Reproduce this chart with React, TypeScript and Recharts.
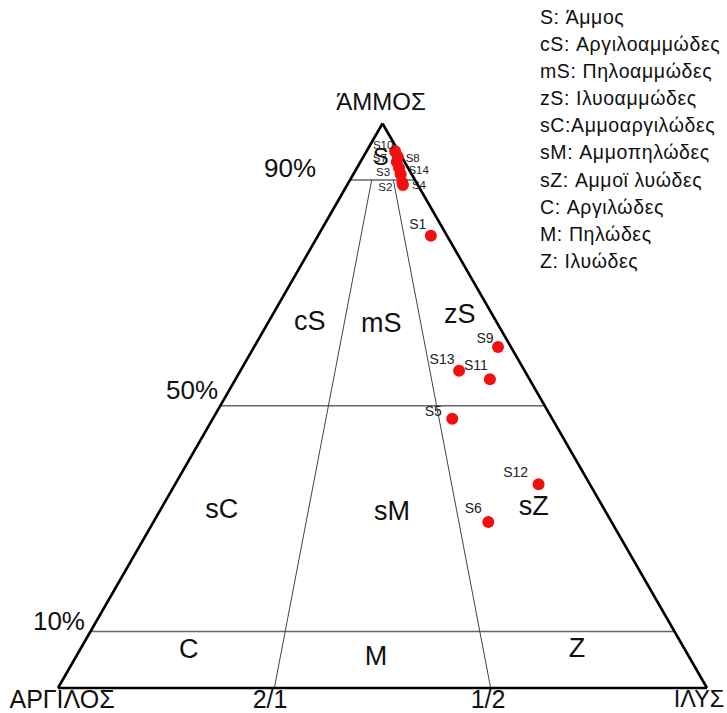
import React from 'react';
import { ScatterChart, Scatter, XAxis, YAxis, ReferenceLine } from 'recharts';

// Sample composition (%): sand, silt, clay
const sampleNames = ['S1', 'S2', 'S3', 'S4', 'S5', 'S6', 'S7', 'S8', 'S9', 'S10', 'S11', 'S12', 'S13', 'S14'];
const sandPct = [80.1, 89.5, 92.1, 89.1, 47.7, 29.4, 93.2, 94.1, 60.4, 95.1, 54.7, 36.1, 56.2, 91.0];
const siltPct = [17.4, 8.3, 6.5, 8.6, 36.9, 51.6, 5.6, 5.3, 37.6, 4.4, 39.2, 56.0, 33.7, 7.3];
const clayPct = [2.5, 2.2, 1.4, 2.3, 15.4, 19.0, 1.2, 0.6, 2.0, 0.5, 6.1, 7.9, 10.1, 1.7];

// Folk classes
const zoneNames = ['S', 'cS', 'mS', 'zS', 'sC', 'sM', 'sZ', 'C', 'M', 'Z'];
const zoneSand = [94.1, 65.2, 64.8, 66.4, 31.9, 31.5, 32.4, 7.1, 5.8, 7.3];
const zoneSilt = [2.7, 6.2, 17.4, 28.7, 9.3, 35.7, 57.1, 16.6, 46.1, 76.3];

// Class boundaries
const sandLevels = [10, 50, 90];
const sandLevelLabels = ['10%', '50%', '90%'];
const clayRatioLabels = ['2/1', '1/2'];
const ratioSiltShare = [1 / 3, 2 / 3];

const cornerLabels = ['ΆΜΜΟΣ', 'ΑΡΓΙΛΟΣ', 'ΙΛΥΣ'];

const legendLines = [
  'S: Άμμος',
  'cS: Αργιλοαμμώδες',
  'mS: Πηλοαμμώδες',
  'zS: Ιλυοαμμώδες',
  'sC:Αμμοαργιλώδες',
  'sM: Αμμοπηλώδες',
  'sZ: Αμμοϊ λυώδες',
  'C: Αργιλώδες',
  'M: Πηλώδες',
  'Z: Ιλυώδες',
];

// label offsets in px and font size (layout only)
const labelOffset: Record<string, [number, number, number]> = {
  S10: [-12, -6, 11.5],
  S7: [-17, -4, 11.5],
  S8: [15, 1, 11.5],
  S3: [-16, 4, 11.5],
  S14: [18, -4, 11.5],
  S2: [-17, 4, 11.5],
  S4: [16, 0, 11.5],
  S1: [-13, -12, 14],
  S9: [-13, -9, 14],
  S13: [-17, -12, 14],
  S11: [-14, -14, 14],
  S5: [-19, -8, 14],
  S12: [-23, -12, 14],
  S6: [-15, -14, 14],
};

const FONT = '"Liberation Sans", Arial, sans-serif';

function tern(sand: number, silt: number) {
  const s = sand / 100;
  const z = silt / 100;
  return { x: z + s / 2, y: s };
}

const sampleData = sampleNames.map((name, i) => ({
  name,
  clay: clayPct[i],
  ...tern(sandPct[i], siltPct[i]),
}));

const zoneData = zoneNames.map((label, i) => ({ label, ...tern(zoneSand[i], zoneSilt[i]) }));

const levelLabelData = [
  { label: sandLevelLabels[2], x: 0.3575, y: 0.9212 },
  { label: sandLevelLabels[1], x: 0.2065, y: 0.5279 },
  { label: sandLevelLabels[0], x: 0.0015, y: 0.1187 },
];

const bottomLabelData = [
  { label: cornerLabels[1], x: 0.0062, y: -0.0195 },
  { label: clayRatioLabels[0], x: 0.3267, y: -0.0195 },
  { label: clayRatioLabels[1], x: 0.6626, y: -0.0195 },
];

const rightCornerData = [{ label: cornerLabels[2], x: 0.9877, y: -0.0195 }];

const topLabelData = [{ label: cornerLabels[0], x: 0.4977, y: 1.0399 }];

const W = 727;
const H = 713;
const xDomain: [number, number] = [-0.08937, 1.03081];
const yDomain: [number, number] = [-0.04428, 1.21878];

const makeText = (fontSize: number, color = '#111') => (props: any) => {
  const { cx, cy, payload } = props;
  return (
    <text
      x={cx}
      y={cy}
      dy={fontSize * 0.36}
      textAnchor="middle"
      fontSize={fontSize}
      fontFamily={FONT}
      fill={color}
    >
      {payload.label}
    </text>
  );
};

const SampleDot = (props: any) => {
  const { cx, cy, payload } = props;
  const off = labelOffset[payload.name] || [-14, -12, 14];
  return (
    <g>
      <circle cx={cx} cy={cy} r={6} fill="#f20f0f" />
      <text
        x={cx + off[0]}
        y={cy + off[1]}
        dy={off[2] * 0.36}
        textAnchor="middle"
        fontSize={off[2]}
        fontFamily={FONT}
        fill="#222"
      >
        {payload.name}
      </text>
    </g>
  );
};

export default function App() {
  const apex = tern(100, 0);
  const left = tern(0, 0);
  const right = tern(0, 100);
  const hLines = sandLevels.map((s) => [tern(s, 0), tern(s, 100 - s)]);
  const rLines = ratioSiltShare.map((r) => [tern(0, r * 100), tern(90, 10 * r)]);

  return (
    <div style={{ position: 'relative', width: W, height: H, overflow: 'hidden' }}>
      <style>{`html,body{margin:0;padding:0;overflow:hidden}svg.recharts-surface{overflow:visible !important}`}</style>
      <ScatterChart width={W} height={H} margin={{ top: 0, right: 0, bottom: 0, left: 0 }}>
        <XAxis type="number" dataKey="x" domain={xDomain} hide allowDataOverflow />
        <YAxis type="number" dataKey="y" domain={yDomain} hide allowDataOverflow />
        {hLines.map((seg, i) => (
          <ReferenceLine
            key={'h' + i}
            segment={[{ x: seg[0].x, y: seg[0].y }, { x: seg[1].x, y: seg[1].y }]}
            stroke="#666"
            strokeWidth={1.6}
            ifOverflow="visible"
          />
        ))}
        {rLines.map((seg, i) => (
          <ReferenceLine
            key={'r' + i}
            segment={[{ x: seg[0].x, y: seg[0].y }, { x: seg[1].x, y: seg[1].y }]}
            stroke="#444"
            strokeWidth={1}
            ifOverflow="visible"
          />
        ))}
        <ReferenceLine segment={[left, right]} stroke="#000" strokeWidth={2.6} ifOverflow="visible" />
        <ReferenceLine segment={[left, apex]} stroke="#000" strokeWidth={2.6} ifOverflow="visible" />
        <ReferenceLine segment={[right, apex]} stroke="#000" strokeWidth={2.6} ifOverflow="visible" />
        <Scatter data={zoneData.slice(0, 1)} shape={makeText(24)} isAnimationActive={false} />
        <Scatter data={zoneData.slice(1)} shape={makeText(27)} isAnimationActive={false} />
        <Scatter data={levelLabelData} shape={makeText(26)} isAnimationActive={false} />
        <Scatter data={bottomLabelData} shape={makeText(25)} isAnimationActive={false} />
        <Scatter data={rightCornerData} shape={makeText(23.5)} isAnimationActive={false} />
        <Scatter data={topLabelData} shape={makeText(24)} isAnimationActive={false} />
        <Scatter data={sampleData} shape={SampleDot} isAnimationActive={false} />
      </ScatterChart>
      <div
        style={{
          position: 'absolute',
          left: 540,
          top: 4,
          fontFamily: FONT,
          fontSize: 19.5,
          letterSpacing: '0.6px',
          lineHeight: '27.1px',
          color: '#111',
          whiteSpace: 'nowrap',
        }}
      >
        {legendLines.map((t) => (
          <div key={t}>{t}</div>
        ))}
      </div>
    </div>
  );
}
